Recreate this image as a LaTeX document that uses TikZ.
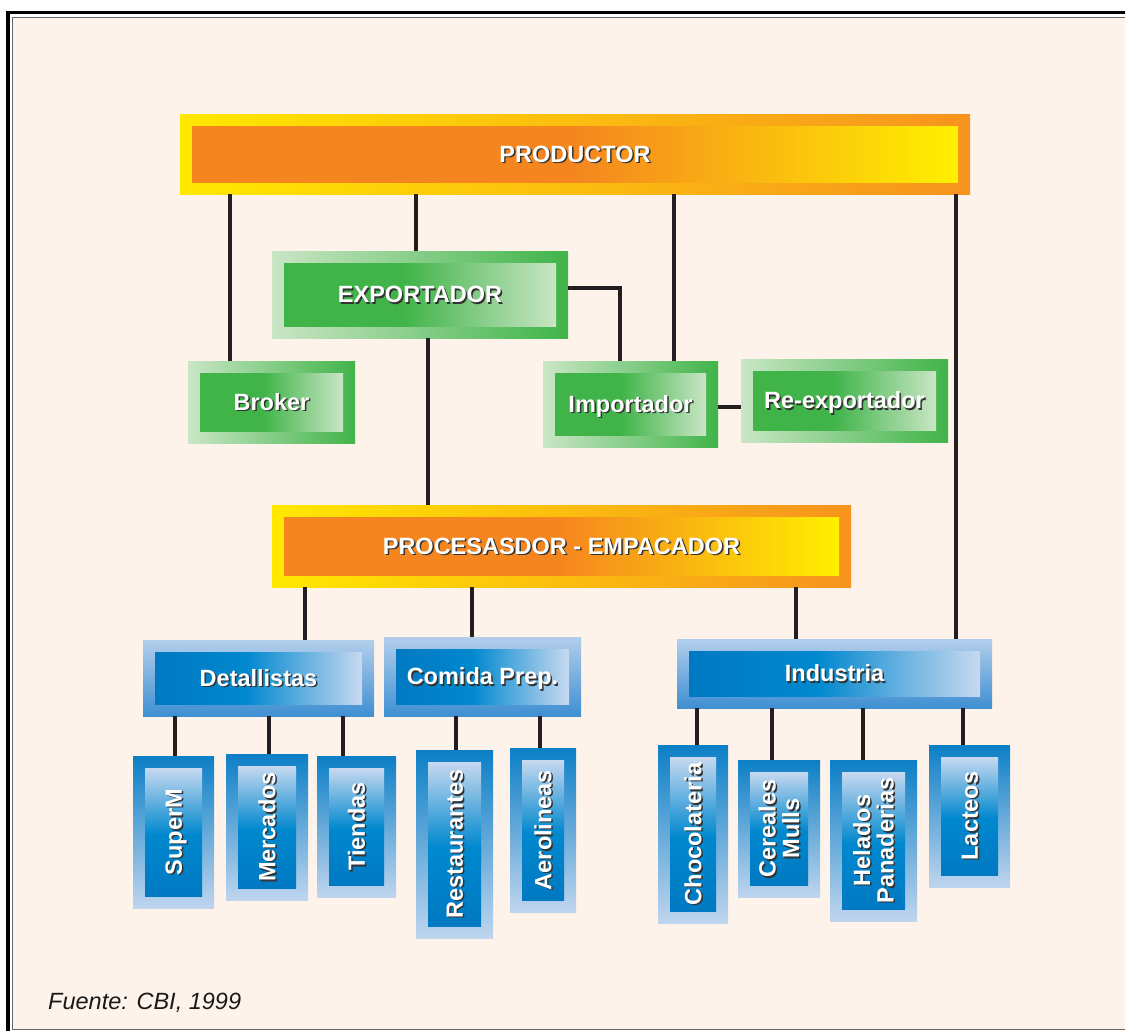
\documentclass[tikz,border=0pt]{standalone}
\usepackage{fontspec}
\setmainfont{Liberation Sans}
\definecolor{cream}{HTML}{FDF3EA}
\definecolor{linec}{HTML}{231F20}
\definecolor{orng}{HTML}{F5861F}
\definecolor{orng2}{HTML}{F7931E}
\definecolor{yel}{HTML}{FFF000}
\definecolor{yel2}{HTML}{FFE800}
\definecolor{grn}{HTML}{40B449}
\definecolor{lgrn}{HTML}{C9E6C5}
\definecolor{blu}{HTML}{0079C2}
\definecolor{blu2}{HTML}{0088CE}
\definecolor{lblu}{HTML}{C7D9F0}
\definecolor{bOutTop}{HTML}{B3CEEC}
\definecolor{bOutBot}{HTML}{3F8FD2}
\definecolor{vOutTop}{HTML}{0C7FC6}
\definecolor{vOutBot}{HTML}{BFD5EE}
\definecolor{shadowc}{HTML}{333333}
\pgfdeclarehorizontalshading{orin}{100bp}{color(0bp)=(orng); color(25bp)=(orng); color(50bp)=(orng); color(75bp)=(yel); color(100bp)=(yel)}
\pgfdeclarehorizontalshading{grin}{100bp}{color(0bp)=(grn); color(25bp)=(grn); color(47bp)=(grn); color(75bp)=(lgrn); color(100bp)=(lgrn)}
\pgfdeclarehorizontalshading{bhin}{100bp}{color(0bp)=(blu); color(25bp)=(blu); color(47bp)=(blu2); color(75bp)=(lblu); color(100bp)=(lblu)}
\pgfdeclareverticalshading{bvin}{100bp}{color(0bp)=(blu); color(25bp)=(blu); color(49bp)=(blu2); color(75bp)=(lblu); color(100bp)=(lblu)}
\newcommand\mybox[7]{%
  \node[#1, inner sep=0pt, outer sep=0pt, minimum width={#6-#4}, minimum height={#7-#5}] (#3) at ({(#4+#6)/2},{(#5+#7)/2}) {};
  \path[#2] ([shift={(12,12)}]#3.north west) rectangle ([shift={(-12,-12)}]#3.south east);}
\newcommand\lbl[3][txt]{%
  \node[#1, text=shadowc] (#2-s) at ([shift={(1.5,1.5)}]#2.center) {#3};
  \node[#1] (#2-l) at (#2.center) {#3};}
\begin{document}
\begin{tikzpicture}[x=1pt,y=-1pt,
  conn/.style={line width=3.6pt, draw=linec},
  lblbase/.style={font=\fontsize{23.5}{23.5}\selectfont\bfseries, text=white, inner sep=0pt, align=center},
  txt/.style={lblbase, text height=16.8pt, text depth=0pt},
  vtxt/.style={txt, rotate=90},
  vtxtm/.style={lblbase, rotate=90},
  oOut/.style={left color=yel2, right color=orng2},
  gOut/.style={left color=lgrn, right color=grn},
  bhOut/.style={top color=bOutTop, bottom color=bOutBot},
  bvOut/.style={top color=vOutTop, bottom color=vOutBot},
  oIn/.style={shade, shading=orin},
  gIn/.style={shade, shading=grin},
  bhIn/.style={shade, shading=bhin},
  bvIn/.style={shade, shading=bvin}
]
\useasboundingbox (0,0) rectangle (1125,1031);
\clip (0,0) rectangle (1125,1031);
\fill[white] (0,0) rectangle (1125,1031);
\fill[cream] (12.5,17) rectangle (1140,1029);
\draw[line width=3.5pt, draw=black] (8,12.5) rectangle (1145,1045);
\draw[line width=1pt, draw=black!60] (12.5,17) rectangle (1140,1029);

% boxes
\mybox{oOut}{oIn}{prod}{180}{114}{970}{194}
\mybox{gOut}{gIn}{exp}{272}{251}{568}{338}
\mybox{gOut}{gIn}{broker}{188}{361}{355}{443}
\mybox{gOut}{gIn}{imp}{543}{361}{718}{447}
\mybox{gOut}{gIn}{reexp}{741}{359}{948}{442}
\mybox{oOut}{oIn}{proc}{272}{505}{851}{587}
\mybox{bhOut}{bhIn}{det}{143}{640}{374}{716}
\mybox{bhOut}{bhIn}{com}{384}{637}{581}{716}
\mybox{bhOut}{bhIn}{ind}{677}{639}{992}{708}
\mybox{bvOut}{bvIn}{superm}{133}{756}{214}{908}
\mybox{bvOut}{bvIn}{merc}{226}{754}{308}{900}
\mybox{bvOut}{bvIn}{tien}{317}{756}{396}{897}
\mybox{bvOut}{bvIn}{rest}{416}{750}{493}{938}
\mybox{bvOut}{bvIn}{aero}{510}{748}{576}{912}
\mybox{bvOut}{bvIn}{choc}{658}{745}{728}{923}
\mybox{bvOut}{bvIn}{cer}{738}{760}{820}{897}
\mybox{bvOut}{bvIn}{hel}{830}{760}{917}{921}
\mybox{bvOut}{bvIn}{lac}{929}{745}{1010}{887}

% labels
\lbl{prod}{PRODUCTOR}
\lbl{exp}{EXPORTADOR}
\lbl{broker}{Broker}
\lbl{imp}{Importador}
\lbl{reexp}{Re-exportador}
\lbl{proc}{PROCESASDOR - EMPACADOR}
\lbl{det}{Detallistas}
\lbl{com}{Comida Prep.}
\lbl{ind}{Industria}
\lbl[vtxt]{superm}{SuperM}
\lbl[vtxt]{merc}{Mercados}
\lbl[vtxt]{tien}{Tiendas}
\lbl[vtxt]{rest}{Restaurantes}
\lbl[vtxt]{aero}{Aerolineas}
\lbl[vtxt]{choc}{Chocolateria}
\lbl[vtxtm]{cer}{Cereales\\Mulls}
\lbl[vtxtm]{hel}{Helados\\Panaderias}
\lbl[vtxt]{lac}{Lacteos}

% connectors
\draw[conn] ([xshift=-345pt]prod.south) -- ([xshift=-41.5pt]broker.north);
\draw[conn] ([xshift=-159pt]prod.south) -- ([xshift=-4pt]exp.north);
\draw[conn] ([xshift=99pt]prod.south) -- ([xshift=43.5pt]imp.north);
\draw[conn] ([xshift=381pt]prod.south) -- ([xshift=121.5pt]ind.north);
\draw[conn] ([yshift=6.5pt]exp.east) -| ([xshift=-10.5pt]imp.north);
\draw[conn] ([xshift=8pt]exp.south) -- ([xshift=-133.5pt]proc.north);
\draw[conn] ([yshift=-3pt]imp.east) -- ([yshift=-6.5pt]reexp.west);
\draw[conn] ([xshift=-256.5pt]proc.south) -- ([xshift=46.5pt]det.north);
\draw[conn] ([xshift=-89.5pt]proc.south) -- ([xshift=-10.5pt]com.north);
\draw[conn] ([xshift=234.5pt]proc.south) -- ([xshift=-38.5pt]ind.north);
\draw[conn] ([xshift=-83.5pt]det.south) -- ([xshift=1.5pt]superm.north);
\draw[conn] ([xshift=10.5pt]det.south) -- ([xshift=2pt]merc.north);
\draw[conn] ([xshift=84.5pt]det.south) -- ([xshift=-13.5pt]tien.north);
\draw[conn] ([xshift=-26.5pt]com.south) -- ([xshift=1.5pt]rest.north);
\draw[conn] ([xshift=57.5pt]com.south) -- ([xshift=-3pt]aero.north);
\draw[conn] ([xshift=-137.5pt]ind.south) -- ([xshift=4pt]choc.north);
\draw[conn] ([xshift=-62.5pt]ind.south) -- ([xshift=-7pt]cer.north);
\draw[conn] ([xshift=28.5pt]ind.south) -- ([xshift=-10.5pt]hel.north);
\draw[conn] ([xshift=128.5pt]ind.south) -- ([xshift=-6.5pt]lac.north);

% source
\node[font=\fontsize{23.5}{25}\selectfont\itshape, text=black!90, anchor=base west, inner sep=0pt] (src) at (48,1009) {Fuente: CBI, 1999};
\end{tikzpicture}
\end{document}
